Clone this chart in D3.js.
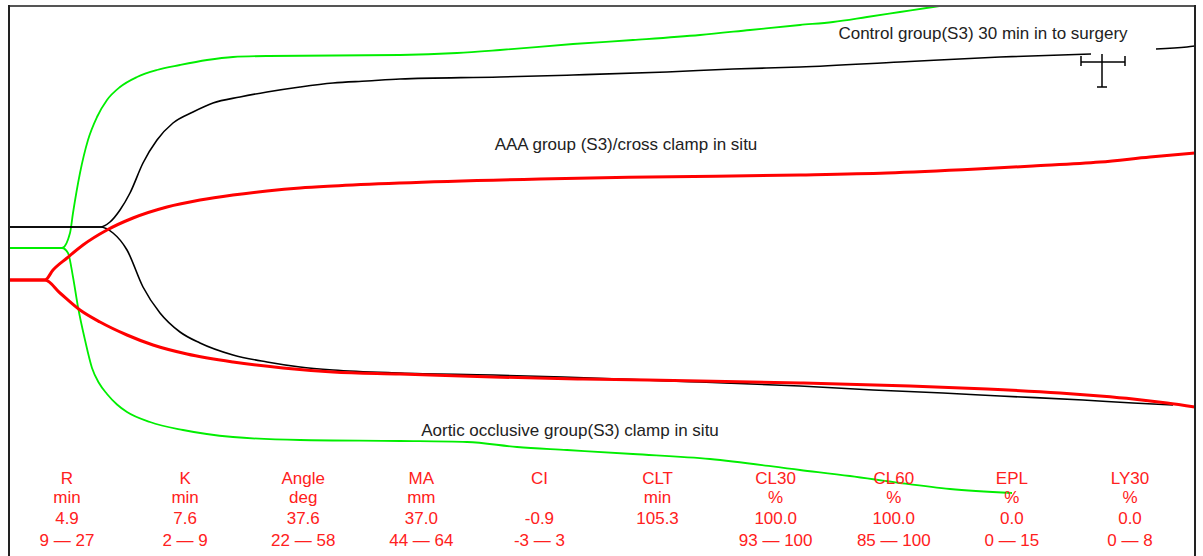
<!DOCTYPE html>
<html>
<head>
<meta charset="utf-8">
<script src="https://cdn.jsdelivr.net/npm/d3@7"></script>
<style>
  body { margin: 0; background: #fff; }
  svg { display: block; font-family: Arial, "Liberation Sans", sans-serif; }
  .trace-label { fill: #222; font-size: 17px; }
  .param { fill: #ff2020; font-size: 17px; text-anchor: middle; }
</style>
</head>
<body>
<div id="chart"></div>
<script>
// time in minutes, amplitude in mm (0 = red baseline)
const controlUpper = [[0,10.6],[9.1,10.6],[10.1,11.6],[11.1,14],[12.1,17.4],[13.4,23.4],[14.8,28],[16.4,31.4],[18.4,33.6],[20.4,35.4],[23.1,36.6],[25.8,37.6],[29.1,38.6],[32.4,39.4],[35.8,39.8],[39.1,40.2],[49.1,40.6],[56.4,41],[65.8,41.6],[72.4,42.2],[79.1,42.6],[89.1,43.6],[99.1,44.6],[108.2,45.2],null,[114.7,46.2],[117.8,46.6],[118.6,46.8]];
const controlLower = [[0,10.6],[9.1,10.6],[10.4,9.4],[11.8,6],[13.4,-1.4],[15.1,-6.6],[17.1,-10.4],[19.1,-12.6],[22.4,-15],[25.8,-16.4],[29.1,-17.4],[32.4,-18],[39.1,-18.6],[48.4,-19],[55.4,-19.4],[69.1,-20.4],[79.1,-21.2],[86.4,-22],[93.4,-22.6],[99.1,-23.2],[107.4,-24],[112.4,-24.6],[116.4,-25]];

const aaaUpper = [[0,0],[3.6,0],[4.4,2],[5.8,4.4],[7.4,7],[9.8,10],[12.4,12.4],[15.8,14.6],[19.1,16],[22.4,17],[25.8,17.8],[29.1,18.4],[32.4,18.8],[39.1,19.4],[53.1,20.2],[64.1,20.6],[79.1,21],[87.8,21.4],[96.8,22.2],[102.4,22.8],[109.1,23.6],[114.1,24.6],[118.6,25.4]];
const aaaLower = [[0,0],[3.6,0],[5.1,-2.6],[7.1,-6],[9.1,-8.4],[11.8,-11],[14.4,-13],[17.8,-14.8],[22.4,-16.4],[27.4,-17.6],[32.4,-18.4],[39.1,-18.8],[48.4,-19.4],[57.4,-19.8],[69.1,-20.2],[79.1,-20.6],[90.1,-21.2],[97.8,-21.8],[105.1,-22.6],[109.1,-23.2],[112.4,-23.8],[115.8,-24.6],[118.6,-25.4]];

const aorticUpper = [[0,6.4],[5.3,6.4],[6.1,9.4],[6.4,13.4],[7.1,21.4],[7.9,28],[8.8,32.6],[9.8,36],[11.1,38.6],[12.8,40.6],[14.8,42],[17.1,43],[19.8,44],[22.4,44.6],[25.9,44.8],[39.1,45],[44.8,45.4],[49.1,46],[56.4,47.2],[62.4,48],[69.1,49],[74.1,50],[79.1,51],[82.4,51.6],[85.8,52.6],[89.1,53.6],[92.4,54.6],[95.1,55.4]];
const aorticLower = [[0,6.4],[5.3,6.4],[5.9,5.4],[6.4,0.6],[6.9,-5.4],[7.6,-12],[8.3,-17.6],[9.0,-20.6],[9.8,-22.8],[10.8,-24.9],[11.8,-26.4],[14.1,-28.4],[17.4,-30],[22.4,-31.4],[29.1,-32],[39.1,-32.2],[45.8,-32.4],[50.8,-33.4],[55.8,-34],[62.4,-34.8],[70.1,-35.8],[79.1,-38],[84.1,-39.2],[89.1,-40.6],[94.1,-41.8],[100.3,-42.6]];

// control group MA mean with spread (time, amplitude)
const errorBar = { t: 109.3, v: 43.6, tLo: 107.2, tHi: 111.6, vTop: 45.2, vLo: 38.6 };

const traceNames = ["Control group(S3) 30 min in to surgery", "AAA group (S3)/cross clamp in situ", "Aortic occlusive group(S3) clamp in situ"];

const paramNames = ["R", "K", "Angle", "MA", "CI", "CLT", "CL30", "CL60", "EPL", "LY30"];
const paramUnits = ["min", "min", "deg", "mm", "", "min", "%", "%", "%", "%"];
const paramValues = ["4.9", "7.6", "37.6", "37.0", "-0.9", "105.3", "100.0", "100.0", "0.0", "0.0"];
const paramRanges = ["9 \u2014 27", "2 \u2014 9", "22 \u2014 58", "44 \u2014 64", "-3 \u2014 3", "", "93 \u2014 100", "85 \u2014 100", "0 \u2014 15", "0 \u2014 8"];

const W = 1203, H = 556;
const plot = { left: 9, right: 1195, top: 6, bottom: 556 };

const svg = d3.select("#chart").append("svg")
  .attr("width", W).attr("height", H);

const x = d3.scaleLinear().domain([0, 118.6]).range([plot.left, plot.right]);
const y = d3.scaleLinear().domain([54.8, -55.2]).range([plot.top, plot.bottom]);

svg.append("clipPath").attr("id", "clip")
  .append("rect")
  .attr("x", plot.left).attr("y", plot.top)
  .attr("width", plot.right - plot.left).attr("height", plot.bottom - plot.top);

const line = d3.line()
  .defined(d => d !== null)
  .x(d => x(d[0]))
  .y(d => y(d[1]))
  .curve(d3.curveMonotoneX);

const g = svg.append("g").attr("clip-path", "url(#clip)");

const traces = [
  { data: aorticUpper, color: "#00ee00", width: 1.8 },
  { data: aorticLower, color: "#00ee00", width: 1.8 },
  { data: controlUpper, color: "#000", width: 1.6 },
  { data: controlLower, color: "#000", width: 1.6 },
  { data: aaaUpper, color: "#ff0000", width: 3 },
  { data: aaaLower, color: "#ff0000", width: 3 }
];

g.selectAll("path.trace")
  .data(traces)
  .join("path")
  .attr("class", "trace")
  .attr("fill", "none")
  .attr("stroke", d => d.color)
  .attr("stroke-width", d => d.width)
  .attr("d", d => line(d.data));

// error bar
const eb = svg.append("g").attr("stroke", "#000").attr("stroke-width", 1.5);
eb.append("line").attr("x1", x(errorBar.tLo)).attr("x2", x(errorBar.tHi))
  .attr("y1", y(errorBar.v)).attr("y2", y(errorBar.v));
eb.append("line").attr("x1", x(errorBar.t)).attr("x2", x(errorBar.t))
  .attr("y1", y(errorBar.vTop)).attr("y2", y(errorBar.vLo));
[errorBar.tLo, errorBar.tHi].forEach(t => {
  eb.append("line").attr("x1", x(t)).attr("x2", x(t))
    .attr("y1", y(errorBar.v) - 6).attr("y2", y(errorBar.v) + 4);
});
eb.append("line").attr("x1", x(errorBar.t) - 5).attr("x2", x(errorBar.t) + 5)
  .attr("y1", y(errorBar.vLo)).attr("y2", y(errorBar.vLo));

// trace labels
const labelPos = [[97.4, 48.2], [61.7, 26], [56.1, -31.2]];
svg.selectAll("text.trace-label")
  .data(traceNames)
  .join("text")
  .attr("class", "trace-label")
  .attr("text-anchor", "middle")
  .attr("x", (d, i) => x(labelPos[i][0]))
  .attr("y", (d, i) => y(labelPos[i][1]))
  .text(d => d);

// frame
svg.append("line").attr("x1", plot.left).attr("x2", plot.right)
  .attr("y1", plot.top).attr("y2", plot.top)
  .attr("stroke", "#555").attr("stroke-width", 2);
svg.append("line").attr("x1", plot.left).attr("x2", plot.left)
  .attr("y1", plot.top - 1).attr("y2", H)
  .attr("stroke", "#222").attr("stroke-width", 2);
svg.append("line").attr("x1", plot.right).attr("x2", plot.right)
  .attr("y1", plot.top - 1).attr("y2", H)
  .attr("stroke", "#222").attr("stroke-width", 2);

// parameter table
const col = d3.scalePoint().domain(paramNames).range([67, 1130]);
const rows = [paramNames, paramUnits, paramValues, paramRanges];
const rowY = [484, 503, 524, 546];
rows.forEach((row, r) => {
  svg.append("g").selectAll("text")
    .data(row)
    .join("text")
    .attr("class", "param")
    .attr("x", (d, i) => col(paramNames[i]))
    .attr("y", rowY[r])
    .text(d => d);
});
</script>
</body>
</html>
